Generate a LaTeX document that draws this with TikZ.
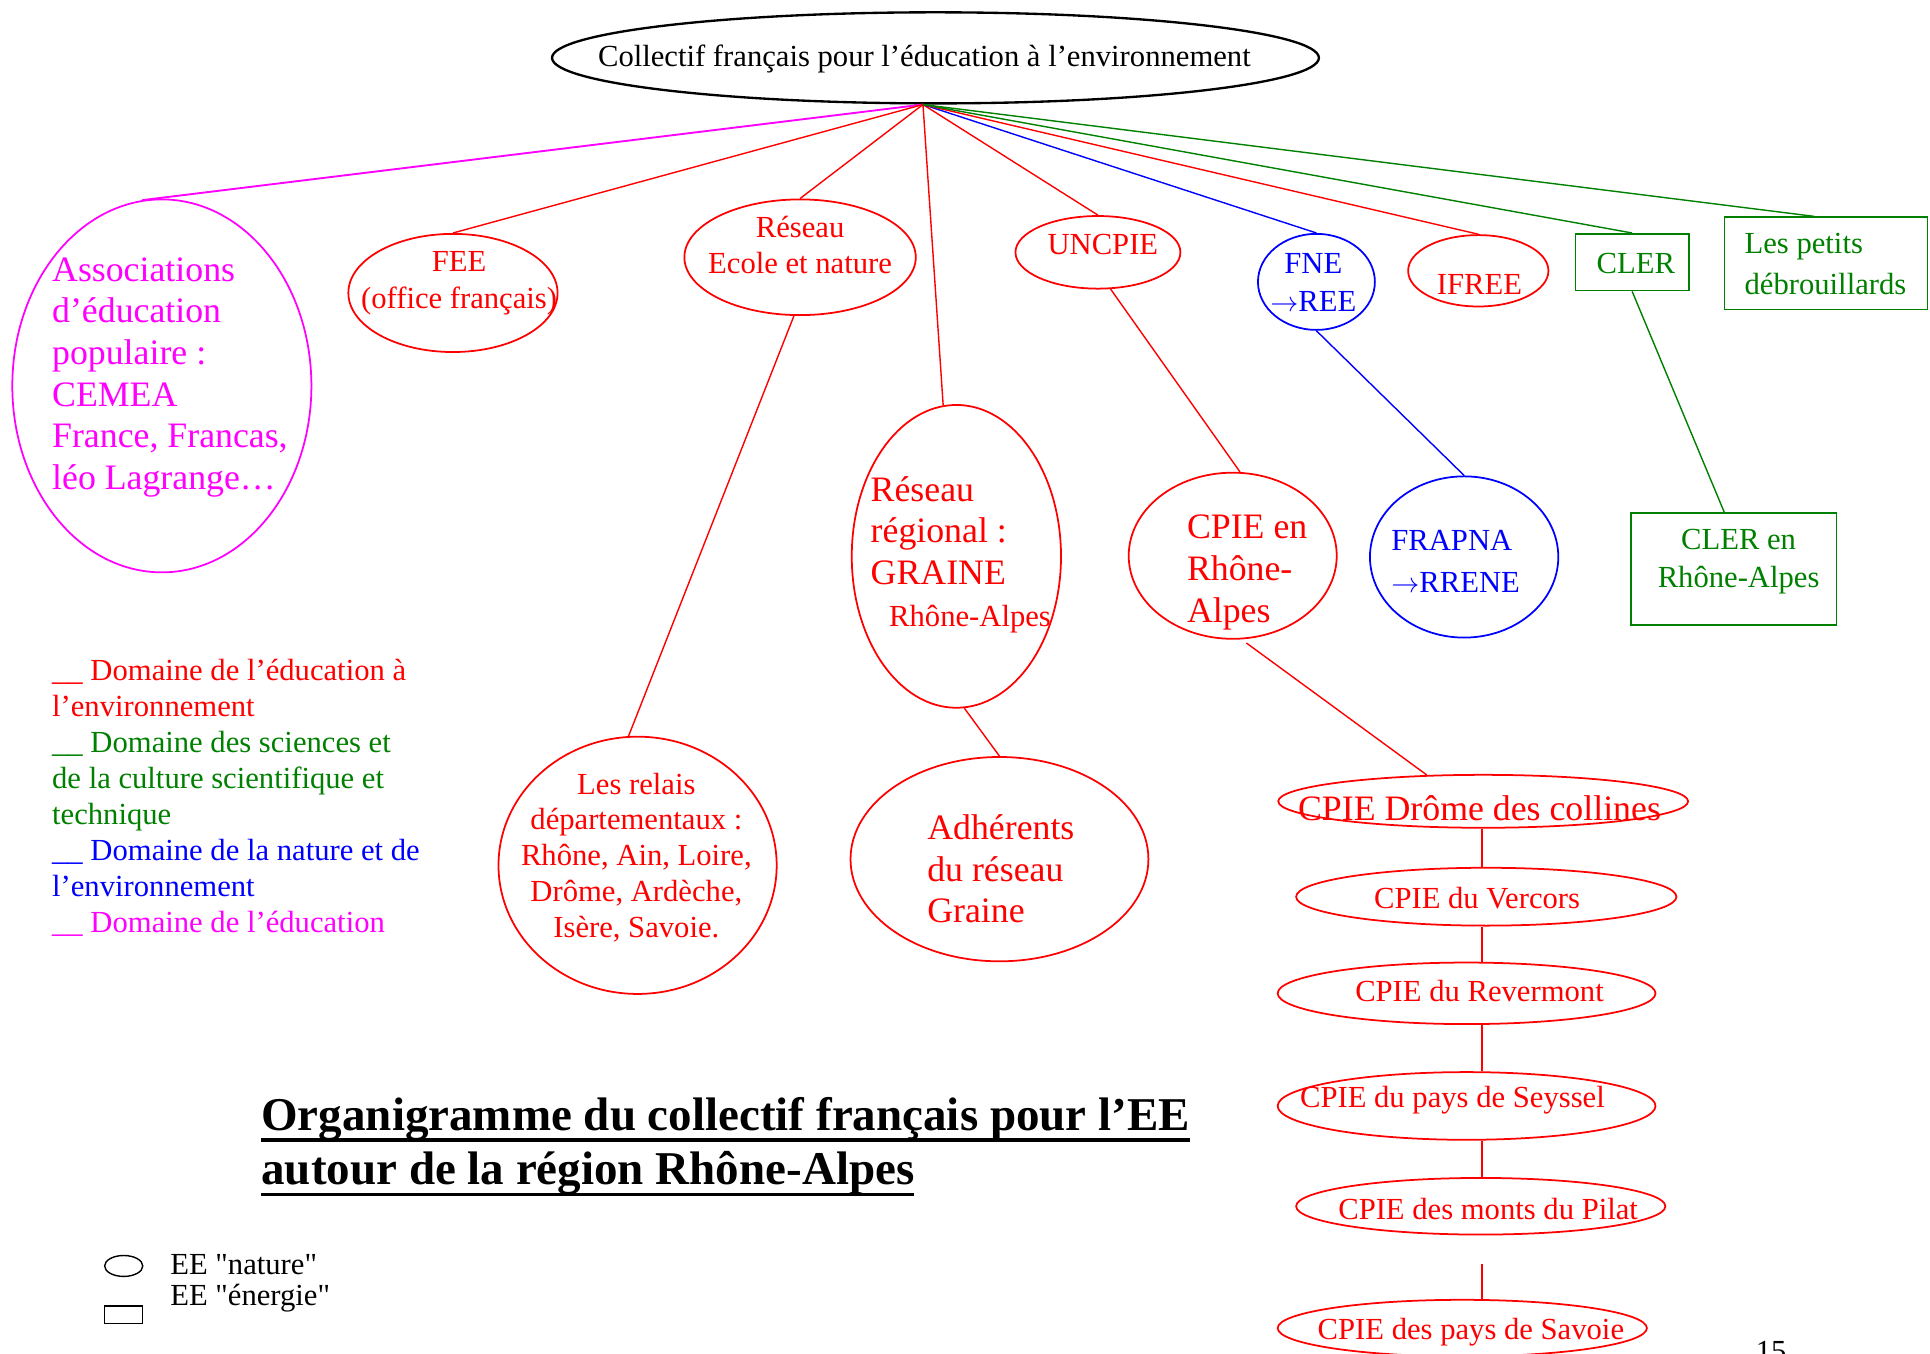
\documentclass[tikz,border=0pt]{standalone}
\usepackage{fontspec}
\setmainfont{Liberation Serif}
\newfontfamily\rawserif{Liberation Serif}
\newsavebox{\titlebox}
\newcommand{\titleline}[1]{\sbox{\titlebox}{#1}\rlap{\rule[-5pt]{\wd\titlebox}{1.6pt}}\usebox{\titlebox}}
\usetikzlibrary{shapes.geometric}
\definecolor{sci}{RGB}{0,128,0}
\definecolor{edu}{RGB}{255,0,255}
\definecolor{env}{RGB}{255,0,0}
\definecolor{nat}{RGB}{0,0,255}
\tikzset{sz/.style 2 args={minimum width=#1*0.5262pt,minimum height=#2*0.5262pt}}
\tikzset{ell/.style={ellipse,draw,inner sep=0pt,line width=0.75pt}}
\tikzset{rect/.style={rectangle,draw,inner sep=0pt,line width=0.75pt}}
\tikzset{txt/.style={inner sep=0pt,font=\fontsize{13.1}{#1}\selectfont},txt/.default=15.3}
\tikzset{bigtxt/.style={inner sep=0pt,font=\fontsize{15.3}{17.8}\selectfont}}
\tikzset{link/.style={line width=0.6pt}}

\begin{document}
\begin{tikzpicture}[x=0.5262pt,y=-0.5262pt]
    \useasboundingbox (0,0) rectangle (1568,1100);
    \node[ell,line width=1pt,sz={623}{74}] (top) at (760,47) {};
    \node[txt] (top-t) at (751,48) {Collectif français pour l'éducation à l'environnement};
    \node[ell,draw=edu,sz={243}{303}] (assoc) at (131.5,313.5) {};
    \node[bigtxt,text=edu,align=left,anchor=west] (assoc-t) at (42,306.5) {Associations\\d'éducation\\populaire :\\CEMEA\\France, Francas,\\léo Lagrange…};
    \node[ell,draw=env,sz={170}{96}] (fee) at (368,238) {};
    \node[txt=15.8,text=env,align=center] (fee-t) at (373,230) {FEE\\(office français)};
    \node[ell,draw=env,sz={188}{94}] (ecole) at (650,209) {};
    \node[txt,text=env,align=center] (ecole-t) at (650,199) {Réseau\\Ecole et nature};
    \node[ell,draw=env,sz={134}{59}] (uncpie) at (892,205) {};
    \node[txt,text=env] (uncpie-t) at (896,199) {UNCPIE};
    \node[ell,draw=nat,sz={95}{78}] (fne) at (1069.5,229) {};
    \node[txt=16.3,text=nat,align=center] (fne-t) at (1067,229.5) {FNE\\$\rightarrow$REE};
    \node[ell,draw=env,sz={114}{58}] (ifree) at (1201,220) {};
    \node[txt,text=env] (ifree-t) at (1202,231) {IFREE};
    \node[rect,draw=sci,sz={92}{46}] (cler) at (1326,213) {};
    \node[txt,text=sci] (cler-t) at (1329,214) {CLER};
    \node[rect,draw=sci,sz={165}{75}] (petits) at (1483.5,214) {};
    \node[txt=17.4,text=sci,align=left,anchor=west] (petits-t) at (1417,214.5) {Les petits\\débrouillards};
    % second row
    \node[ell,draw=env,sz={170}{246}] (graine) at (777,452) {};
    \node[bigtxt,text=env,align=left,anchor=west] (graine-t) at (707,450.5) {Réseau\\régional :\\GRAINE\\\hspace*{7.9pt}{\fontsize{13.1}{15.3}\selectfont Rhône-Alpes}};
    \node[ell,draw=env,sz={169}{135}] (cpiera) at (1001.5,451.5) {};
    \node[bigtxt,text=env,align=left,anchor=west] (cpiera-t) at (964,465) {CPIE en\\Rhône-\\Alpes};
    \node[ell,draw=nat,sz={153}{131}] (frapna) at (1189.5,452.5) {};
    \node[txt=17.9,text=nat,align=left,anchor=west] (frapna-t) at (1130,456) {FRAPNA\\$\rightarrow$RRENE};
    \node[rect,draw=sci,sz={167}{91}] (clerra) at (1408.5,462.5) {};
    \node[txt=16.3,text=sci,align=center] (clerra-t) at (1412.5,456.5) {CLER en\\Rhône-Alpes};
    \node[ell,draw=env,sz={226}{209}] (relais) at (518,703) {};
    \node[txt,text=env,align=center] (relais-t) at (517,696.5) {Les relais\\départementaux :\\Rhône, Ain, Loire,\\Drôme, Ardèche,\\Isère, Savoie.};
    \node[ell,draw=env,sz={242}{166}] (adh) at (812,698) {};
    \node[bigtxt,text=env,align=left,anchor=west] (adh-t) at (753,706) {Adhérents\\du réseau\\Graine};
    % CPIE
    \node[ell,draw=env,sz={333}{43}] (drome) at (1205,651) {};
    \node[bigtxt,text=env] (drome-t) at (1202,657) {CPIE Drôme des collines};
    \node[ell,draw=env,sz={309}{47}] (vercors) at (1207.5,728.5) {};
    \node[txt,text=env] (vercors-t) at (1200,730) {CPIE du Vercors};
    \node[ell,draw=env,sz={307}{50}] (revermont) at (1191.5,807) {};
    \node[txt,text=env] (revermont-t) at (1202,805) {CPIE du Revermont};
    \node[ell,draw=env,sz={307}{55}] (seyssel) at (1191.5,898.5) {};
    \node[txt,text=env] (seyssel-t) at (1180,894) {CPIE du pays de Seyssel};
    \node[ell,draw=env,sz={300}{46}] (pilat) at (1203,980) {};
    \node[txt,text=env] (pilat-t) at (1209,982) {CPIE des monts du Pilat};
    \node[ell,draw=env,sz={300}{46}] (savoie) at (1188,1079) {};
    \node[txt,text=env] (savoie-t) at (1195,1082) {CPIE des pays de Savoie};
    % links
    \draw[link,edu,line width=0.8pt] (top.255) -- (assoc.96);
    \foreach \n/\c/\a in {fee/env/north,ecole/env/north,graine/env/95,uncpie/env/north,fne/nat/north,ifree/env/north,cler/sci/north}
      \draw[link,\c] (top.255) -- (\n.\a);
    \draw[link,sci] (top.255) -- ([xshift=-5pt]petits.north);
    \draw[link,env] (ecole.264) -- (relais.94);
    \draw[link,env] (graine.-87) -- (adh.north);
    \draw[link,env] (uncpie.-71) -- (cpiera.85);
    \draw[link,nat] (fne.south) -- (frapna.north);
    \draw[link,sci] (cler.south) -- ([xshift=-4pt]clerra.north);
    \draw[link,env,shorten <=2.6pt] (cpiera.-84) -- (drome.155);
    \coordinate (spine) at (1204,0);
    \foreach \a/\b in {drome/vercors,vercors/revermont,revermont/seyssel,seyssel/pilat}
      \draw[link,env] (spine |- \a.south) -- (spine |- \b.north);
    \draw[link,env,shorten <=12pt] (spine |- pilat.south) -- (spine |- savoie.north);
    % legend
    \node[txt=15.4,align=left,anchor=west] (legend) at (42,648) {\textcolor{env}{\_\_ Domaine de l'éducation à}\\\textcolor{env}{l'environnement}\\\textcolor{sci}{\_\_ Domaine des sciences et}\\\textcolor{sci}{de la culture scientifique et}\\\textcolor{sci}{technique}\\\textcolor{nat}{\_\_ Domaine de la nature et de}\\\textcolor{nat}{l'environnement}\\\textcolor{edu}{\_\_ Domaine de l'éducation}};
    \node[anchor=north west,inner sep=0pt,align=left,font=\bfseries\fontsize{20.1}{23.2}\selectfont] (title) at (212,891) {\titleline{Organigramme du collectif français pour l'EE}\\\titleline{autour de la région Rhône-Alpes}};
    \node[ell,line width=0.6pt,sz={31}{17}] (key-ell) at (100.5,1028.5) {};
    \node[rect,line width=0.6pt,sz={31}{14}] (key-rect) at (100.5,1068) {};
    \node[txt,anchor=west,font=\rawserif\fontsize{13.1}{15.3}\selectfont] (key-ell-t) at (138,1027) {EE "nature"};
    \node[txt,anchor=west,font=\rawserif\fontsize{13.1}{15.3}\selectfont] (key-rect-t) at (138,1055) {EE "énergie"};
    \node[txt,anchor=north] (page) at (1439,1089) {15};
  \end{tikzpicture}
\end{document}
